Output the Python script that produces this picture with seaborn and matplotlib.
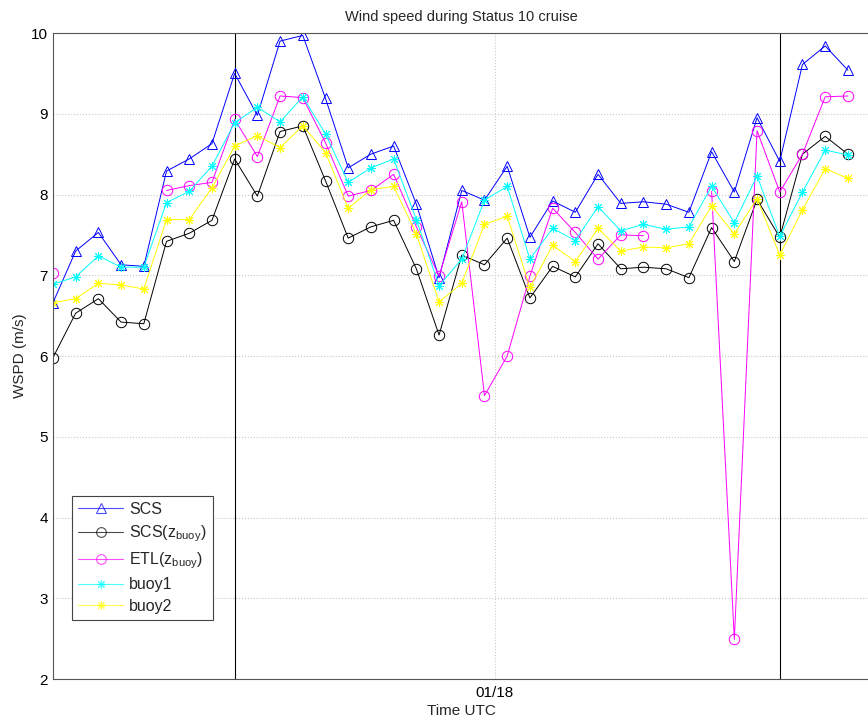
"""
Wind speed comparison plot (SCS, ETL, buoys) using seaborn/matplotlib.
"""
import numpy as np
import pandas as pd
import matplotlib
matplotlib.use('Agg')
import matplotlib.pyplot as plt
import seaborn as sns
from matplotlib.lines import Line2D

nan = np.nan

# hourly samples, hours relative to 01/18 00:00 UTC
hours = np.arange(36) - 19.45

scs = [6.66, 7.30, 7.53, 7.13, 7.11, 8.29, 8.44, 8.63, 9.50, 8.98,
       9.90, 9.97, 9.19, 8.33, 8.50, 8.60, 7.88, 6.97, 8.05, 7.93,
       8.35, 7.47, 7.92, 7.78, 8.25, 7.89, 7.91, 7.88, 7.78, 8.53,
       8.03, 8.95, 8.41, 9.61, 9.84, 9.54]
scs_zbuoy = [5.98, 6.53, 6.71, 6.42, 6.40, 7.42, 7.52, 7.68, 8.44, 7.98,
             8.78, 8.85, 8.17, 7.46, 7.60, 7.68, 7.08, 6.26, 7.25, 7.13,
             7.46, 6.72, 7.11, 6.98, 7.39, 7.08, 7.10, 7.08, 6.97, 7.59,
             7.17, 7.94, 7.47, 8.50, 8.72, 8.50]
etl_zbuoy = [7.03, nan, nan, nan, nan, 8.05, 8.11, 8.15, 8.93, 8.47,
             9.22, 9.20, 8.64, 7.98, 8.05, 8.25, 7.60, 6.99, 7.91, 5.51,
             6.00, 6.99, 7.83, 7.53, 7.20, 7.50, 7.49, nan, nan, 8.04,
             2.49, 8.79, 8.03, 8.50, 9.21, 9.22]
buoy1 = [6.89, 6.98, 7.24, 7.10, 7.10, 7.90, 8.04, 8.35, 8.89, 9.08,
         8.90, 9.21, 8.75, 8.15, 8.33, 8.44, 7.69, 6.87, 7.20, 7.93,
         8.10, 7.20, 7.58, 7.43, 7.85, 7.55, 7.63, 7.57, 7.60, 8.10,
         7.65, 8.23, 7.48, 8.03, 8.55, 8.49]
buoy2 = [6.66, 6.71, 6.90, 6.88, 6.83, 7.69, 7.69, 8.08, 8.60, 8.73,
         8.58, 8.85, 8.52, 7.83, 8.06, 8.10, 7.51, 6.67, 6.90, 7.63,
         7.73, 6.85, 7.37, 7.17, 7.58, 7.30, 7.35, 7.34, 7.39, 7.86,
         7.51, 7.95, 7.25, 7.81, 8.32, 8.20]

series_names = ['SCS', 'SCS(z_buoy)', 'ETL(z_buoy)', 'buoy1', 'buoy2']
legend_labels = ['SCS', r'SCS(z$_{\mathregular{buoy}}$)',
                 r'ETL(z$_{\mathregular{buoy}}$)', 'buoy1', 'buoy2']
colors = ['#0000ff', '#000000', '#ff00ff', '#00ffff', '#ffff00']
markers = ['^', 'o', 'o', (8, 2, 0), (8, 2, 0)]
filled = [False, False, False, True, True]

# times of the vertical event markers
event_hours = [hours[8], hours[32]]

# long-form table, with segment ids so gaps in the data break the line
frames = []
for name, vals in zip(series_names, [scs, scs_zbuoy, etl_zbuoy, buoy1, buoy2]):
    v = np.asarray(vals, dtype=float)
    seg = np.cumsum(np.isnan(v))
    frames.append(pd.DataFrame({'hour': hours, 'wspd': v, 'seg': seg,
                                'series': name}))
df = pd.concat(frames, ignore_index=True).dropna()

sns.set_style('white')
plt.rcParams['font.family'] = ['Liberation Sans', 'DejaVu Sans']
plt.rcParams['mathtext.fontset'] = 'custom'
plt.rcParams['mathtext.rm'] = 'Liberation Sans'
plt.rcParams['mathtext.it'] = 'Liberation Sans'

fig = plt.figure(figsize=(8.68, 7.19), dpi=100)
ax = fig.add_axes([0.061, 0.0556, 0.942, 0.8985])

for name, col, mk, fill in zip(series_names, colors, markers, filled):
    sub = df[df['series'] == name]
    kws = dict(marker=mk, markersize=7.5 if mk in ('^', 'o') else 6.5,
               markeredgecolor=col, markeredgewidth=0.7,
               markerfacecolor='none' if not fill else col)
    sns.lineplot(data=sub, x='hour', y='wspd', units='seg', estimator=None,
                 color=col, linewidth=0.7, ax=ax, legend=False, **kws)

for h in event_hours:
    ax.axvline(h, color='black', linewidth=0.8, zorder=1)

ax.set_xlim(hours[0], hours[0] + 36.0)
ax.set_ylim(2, 10)
ax.set_yticks(np.arange(2, 11, 1))
ax.set_xticks([0])
ax.set_xticklabels(['01/18'])
ax.grid(True, linestyle=':', color='#c8c8c8', linewidth=0.8)
ax.tick_params(direction='in', length=5, labelsize=11, colors='black')
ax.tick_params(axis='x', pad=5)
for sp in ax.spines.values():
    sp.set_color('#555555')
    sp.set_linewidth(0.8)

ax.set_title('Wind speed during Status 10 cruise', fontsize=10.5, pad=9)
ax.set_xlabel('Time UTC', fontsize=11, labelpad=3)
ax.set_ylabel('WSPD (m/s)', fontsize=11, labelpad=3)

handles = []
for col, mk, fill in zip(colors, markers, filled):
    handles.append(Line2D([], [], color=col, linewidth=0.8, marker=mk,
                          markersize=7 if mk in ('^', 'o') else 6,
                          markeredgecolor=col,
                          markerfacecolor='none' if not fill else col,
                          markeredgewidth=0.8, alpha=0.7))
leg = ax.legend(handles, legend_labels, loc='lower left',
                bbox_to_anchor=(0.0232, 0.0913), borderaxespad=0,
                fontsize=11.5, frameon=True, fancybox=False,
                edgecolor='#444444', framealpha=1, handlelength=2.8,
                handletextpad=0.4, borderpad=0.4, labelspacing=0.4)
leg.get_frame().set_linewidth(0.8)

fig.savefig('out.png', dpi=100)
plt.close(fig)
